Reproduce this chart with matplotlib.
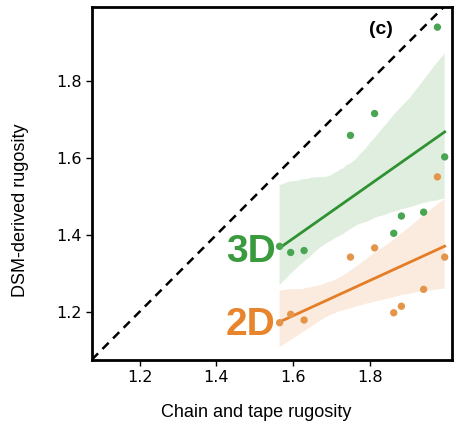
import numpy as np
import matplotlib
matplotlib.use('Agg')
import matplotlib.pyplot as plt
import seaborn as sns

# chain and tape rugosity (shared by both series)
chain_tape = [1.565, 1.594, 1.629, 1.750, 1.813, 1.863, 1.883, 1.941, 1.977, 1.996]
# DSM-derived rugosity
dsm_3d = [1.370, 1.354, 1.359, 1.659, 1.716, 1.404, 1.449, 1.459, 1.941, 1.603]
dsm_2d = [1.171, 1.193, 1.178, 1.342, 1.366, 1.197, 1.214, 1.258, 1.551, 1.342]

xticks = [1.2, 1.4, 1.6, 1.8]
yticks = [1.2, 1.4, 1.6, 1.8]

green_pt, green_ln = '#4aa552', '#2f9232'
orange_pt, orange_ln = '#e5954a', '#e57d26'

plt.rcParams['font.family'] = ['Liberation Sans', 'DejaVu Sans']

fig = plt.figure(figsize=(4.57, 4.23), dpi=100)
ax = fig.add_axes([0.201, 0.149, 0.788, 0.834])

# 1:1 line
lo, hi = 1.075, 2.015
ax.plot([lo, hi], [lo, hi], color='black', linestyle='--', linewidth=1.8, dashes=(3.5, 2.5), zorder=3)

x = np.array(chain_tape)
for y, cp, cl in [(dsm_3d, green_pt, green_ln), (dsm_2d, orange_pt, orange_ln)]:
    sns.regplot(x=x, y=np.array(y), ax=ax, scatter=False, ci=95, seed=3, truncate=True,
                color=cl, line_kws={'linewidth': 2, 'color': cl})
    ax.scatter(x, y, s=28, color=cp, edgecolors='none', zorder=4)

# lighter CI bands
for coll in ax.collections:
    if isinstance(coll, matplotlib.collections.PolyCollection):
        coll.set_alpha(0.15)

ax.text(1.555, 1.355, '3D', color='#3a9a3e', fontsize=28, fontweight='bold',
        ha='right', va='center')
ax.text(1.555, 1.166, '2D', color='#e8842c', fontsize=28, fontweight='bold',
        ha='right', va='center')
ax.text(1.83, 1.935, '(c)', fontsize=14, fontweight='bold', ha='center', va='center')

ax.set_xlim(lo, hi)
ax.set_ylim(1.074, 1.993)
ax.set_xticks(xticks)
ax.set_yticks(yticks)
ax.set_xticklabels([f'{t:.1f}' for t in xticks], family='DejaVu Sans')
ax.set_yticklabels([f'{t:.1f}' for t in yticks], family='DejaVu Sans')
ax.tick_params(labelsize=11.5, length=4, width=1, direction='out', pad=3)
ax.set_xlabel('Chain and tape rugosity', fontsize=13, labelpad=14)
ax.set_ylabel('DSM-derived rugosity', fontsize=13, labelpad=20)
# labels sit off-centre in the original
ax.xaxis.label.set_x(0.456)
ax.yaxis.label.set_y(0.425)
for s in ax.spines.values():
    s.set_linewidth(2)

fig.savefig('out.png', dpi=100)
